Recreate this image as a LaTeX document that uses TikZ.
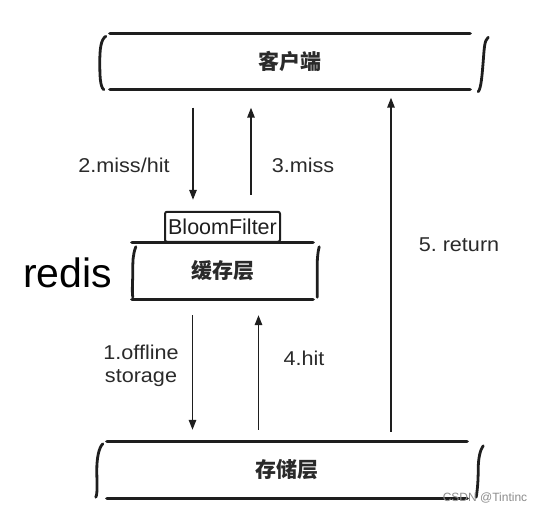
\documentclass[tikz,border=0pt]{standalone}
\usepackage{fontspec}
\setmainfont{Liberation Sans}
\newfontfamily\cjk{Noto Sans CJK SC}
\newfontfamily\lblfont[FakeStretch=1.08]{Liberation Sans}
\usetikzlibrary{arrows.meta,calc}
\definecolor{ink}{HTML}{1E1E1E}
\definecolor{txt}{HTML}{2A2A2A}
\begin{document}
\begin{tikzpicture}[x=1pt,y=-1pt]
\useasboundingbox (0,0) rectangle (543,513);
\tikzset{
  layer/.style={minimum height=56pt, inner sep=0pt, text=txt,
    font=\cjk\bfseries\fontsize{21}{21}\selectfont},
  edge/.style={line width=3.2pt, draw=ink, line cap=round},
  brace/.style={line width=2.8pt, draw=ink, line cap=round},
  bloombox/.style={draw=ink, line width=2pt, rounded corners=2pt, inner sep=0pt,
    minimum width=115pt, minimum height=30pt, text=ink,
    font=\fontsize{21.5}{22}\selectfont},
  flow/.style={line width=1.5pt, draw=ink, -{Triangle[length=10pt,width=7.5pt]}},
  lbl/.style={font=\lblfont\fontsize{20}{23}\selectfont, text=txt, align=center, inner sep=0pt}
}
% layers
\node[layer, minimum width=360pt] (client) at (290,61.5) {客户端};
\node[layer, minimum width=181pt] (cache) at (222.5,271) {缓存层};
\node[layer, minimum width=360pt] (storage) at (287,470) {存储层};
\node[bloombox, anchor=south] (bloom) at (cache.north) {BloomFilter};
\node[font=\fontsize{41}{41}\selectfont, text=black, inner sep=0pt, anchor=base west] (redis) at (23,287) {redis};

% layer lines
\foreach \n in {client,cache,storage}{
  \draw[edge] (\n.north west) -- (\n.north east);
  \draw[edge] (\n.south west) -- (\n.south east);
}
% side curves: client
\draw[brace] ($(client.north west)+(-4,3)$) .. controls +(-5,3) and +(0,-12) .. ($(client.west)+(-10,0)$)
  .. controls +(0,12) and +(-4,-3) .. ($(client.south west)+(-6,0)$);
\draw[brace] ($(client.north east)+(18,4)$) .. controls +(-4,3) and +(1,-12) .. ($(client.east)+(13,0)$)
  .. controls +(-1,12) and +(3,-3) .. ($(client.south east)+(8,2)$);
% cache
\draw[brace] ($(cache.north west)+(4,4)$) .. controls +(-3,8) and +(0,-10) .. ($(cache.west)+(1,0)$)
  .. controls +(0,10) and +(-1,-6) .. ($(cache.south west)+(1,-2)$);
\draw[brace] ($(cache.north east)+(6,4)$) .. controls +(-2,8) and +(0,-10) .. ($(cache.east)+(4,0)$)
  .. controls +(0,10) and +(0,-6) .. ($(cache.south east)+(4,-2)$);
% storage
\draw[brace] ($(storage.north west)+(-4,2)$) .. controls +(-4,4) and +(0,-12) .. ($(storage.west)+(-10,0)$)
  .. controls +(0,12) and +(2,-4) .. ($(storage.south west)+(-11,-1)$);
\draw[brace] ($(storage.north east)+(16,4)$) .. controls +(-3,4) and +(0,-12) .. ($(storage.east)+(11,0)$)
  .. controls +(0,12) and +(1,-6) .. ($(storage.south east)+(9,-1)$);

% arrows
\draw[flow, shorten <=18pt, shorten >=11pt] ([xshift=-97pt]client.south) coordinate (s2) -- (s2 |- bloom.north);
\draw[flow, shorten <=16pt, shorten >=18pt] ([xshift=-39pt]client.south) coordinate (s3) (s3 |- bloom.north) -- (s3);
\draw[flow, shorten <=16pt, shorten >=12pt] ([xshift=-30pt]cache.south) coordinate (s1) -- (s1 |- storage.north);
\draw[flow, shorten <=12pt, shorten >=16pt] ([xshift=36pt]cache.south) coordinate (s4) (s4 |- storage.north) -- (s4);
\draw[flow, shorten <=10pt, shorten >=8pt] ([xshift=104pt]storage.north) coordinate (s5) -- (s5 |- client.south);

% labels
\node[lbl] (l2) at (124,165) {2.miss/hit};
\node[lbl] (l3) at (303,165) {3.miss};
\node[lbl] (l1) at (141,366) {1.offline\\storage};
\node[lbl] (l4) at (304,358) {4.hit};
\node[lbl] (l5) at (459,245) {5.~return};

% watermark
\node[font=\fontsize{12}{12}\selectfont, text=black!45, inner sep=0pt] (wm) at (485,498) {CSDN @Tintinc};
\end{tikzpicture}
\end{document}
